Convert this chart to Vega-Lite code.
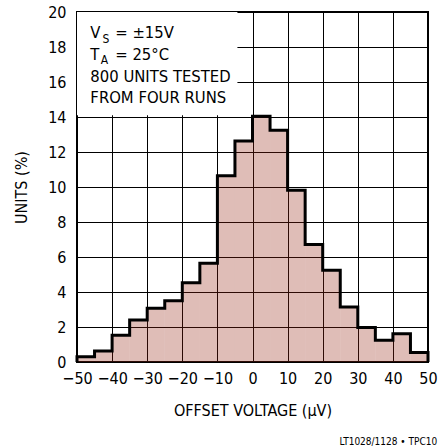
{
  "$schema": "https://vega.github.io/schema/vega-lite/v6.json",
  "width": 351,
  "height": 350,
  "autosize": "none",
  "padding": {"left": 77, "top": 12, "right": 10, "bottom": 86},
  "background": "white",
  "config": {
    "font": "DejaVu Sans Condensed",
    "view": {"stroke": "#000", "strokeWidth": 2},
    "axis": {
      "grid": true,
      "gridColor": "#000",
      "gridWidth": 1,
      "gridOpacity": 1,
      "ticks": false,
      "domain": false,
      "labelOverlap": false,
      "labelBound": false,
      "labelFlush": false,
      "labelFont": "DejaVu Sans Condensed",
      "labelFontSize": 16,
      "labelColor": "#000",
      "titleFont": "DejaVu Sans Condensed",
      "titleFontSize": 16,
      "titleFontWeight": "normal",
      "titleColor": "#000"
    }
  },
  "title": {
    "text": "LT1028/1128 • TPC10",
    "orient": "bottom",
    "anchor": "end",
    "fontSize": 10,
    "fontWeight": "normal",
    "font": "DejaVu Sans Condensed",
    "color": "#000",
    "offset": 19
  },
  "datasets": {
    "bins": [
      {"lo": -50, "hi": -45, "pct": 0.3},
      {"lo": -45, "hi": -40, "pct": 0.63},
      {"lo": -40, "hi": -35, "pct": 1.53},
      {"lo": -35, "hi": -30, "pct": 2.4},
      {"lo": -30, "hi": -25, "pct": 3.07},
      {"lo": -25, "hi": -20, "pct": 3.5},
      {"lo": -20, "hi": -15, "pct": 4.53},
      {"lo": -15, "hi": -10, "pct": 5.64},
      {"lo": -10, "hi": -5, "pct": 10.65},
      {"lo": -5, "hi": 0, "pct": 12.63},
      {"lo": 0, "hi": 5, "pct": 14.05},
      {"lo": 5, "hi": 10, "pct": 13.24},
      {"lo": 10, "hi": 15, "pct": 9.81},
      {"lo": 15, "hi": 20, "pct": 6.71},
      {"lo": 20, "hi": 25, "pct": 5.24},
      {"lo": 25, "hi": 30, "pct": 3.14},
      {"lo": 30, "hi": 35, "pct": 1.97},
      {"lo": 35, "hi": 40, "pct": 1.24},
      {"lo": 40, "hi": 45, "pct": 1.62},
      {"lo": 45, "hi": 50, "pct": 0.54}
    ],
    "outline": [
      {"i": 0, "v": -50, "pct": 0},
      {"i": 1, "v": -50, "pct": 0.3},
      {"i": 2, "v": -45, "pct": 0.63},
      {"i": 3, "v": -40, "pct": 1.53},
      {"i": 4, "v": -35, "pct": 2.4},
      {"i": 5, "v": -30, "pct": 3.07},
      {"i": 6, "v": -25, "pct": 3.5},
      {"i": 7, "v": -20, "pct": 4.53},
      {"i": 8, "v": -15, "pct": 5.64},
      {"i": 9, "v": -10, "pct": 10.65},
      {"i": 10, "v": -5, "pct": 12.63},
      {"i": 11, "v": 0, "pct": 14.05},
      {"i": 12, "v": 5, "pct": 13.24},
      {"i": 13, "v": 10, "pct": 9.81},
      {"i": 14, "v": 15, "pct": 6.71},
      {"i": 15, "v": 20, "pct": 5.24},
      {"i": 16, "v": 25, "pct": 3.14},
      {"i": 17, "v": 30, "pct": 1.97},
      {"i": 18, "v": 35, "pct": 1.24},
      {"i": 19, "v": 40, "pct": 1.62},
      {"i": 20, "v": 45, "pct": 0.54},
      {"i": 21, "v": 50, "pct": 0.54},
      {"i": 22, "v": 50, "pct": 0}
    ],
    "box": [
      {"x1": -50, "x2": -4.3, "y1": 14.1, "y2": 20}
    ],
    "notes": [
      {"kind": "main", "label": "V", "x": -46.2, "y": 18.5},
      {"kind": "sub", "label": "S", "x": -42.7, "y": 18.24},
      {"kind": "main", "label": "= ±15V", "x": -39.1, "y": 18.5},
      {"kind": "main", "label": "T", "x": -46.2, "y": 17.24},
      {"kind": "sub", "label": "A", "x": -43.2, "y": 17.04},
      {"kind": "main", "label": "= 25°C", "x": -39.1, "y": 17.24},
      {"kind": "main", "label": "800 UNITS TESTED", "x": -46.2, "y": 15.98},
      {"kind": "main", "label": "FROM FOUR RUNS", "x": -46.2, "y": 14.78}
    ]
  },
  "layer": [
    {
      "data": {"name": "bins"},
      "mark": {"type": "rect", "fill": "#942312", "fillOpacity": 0.3},
      "encoding": {
        "x": {
          "field": "lo", "type": "quantitative",
          "scale": {"domain": [-50, 50], "nice": false, "zero": false},
          "axis": {"values": [-50, -40, -30, -20, -10, 0, 10, 20, 30, 40, 50], "labelPadding": 8, "title": "OFFSET VOLTAGE (μV)", "titlePadding": 16}
        },
        "x2": {"field": "hi"},
        "y": {
          "field": "pct", "type": "quantitative",
          "scale": {"domain": [0, 20], "nice": false},
          "axis": {"values": [0, 2, 4, 6, 8, 10, 12, 14, 16, 18, 20], "labelPadding": 11, "title": "UNITS (%)", "titlePadding": 18}
        },
        "y2": {"datum": 0}
      }
    },
    {
      "data": {"name": "box"},
      "mark": {"type": "rect", "fill": "white"},
      "encoding": {
        "x": {"field": "x1", "type": "quantitative", "axis": {"values": [-50, -40, -30, -20, -10, 0, 10, 20, 30, 40, 50], "labelPadding": 8, "title": "OFFSET VOLTAGE (μV)", "titlePadding": 16}},
        "x2": {"field": "x2"},
        "y": {"field": "y1", "type": "quantitative", "axis": {"values": [0, 2, 4, 6, 8, 10, 12, 14, 16, 18, 20], "labelPadding": 11, "title": "UNITS (%)", "titlePadding": 18}},
        "y2": {"field": "y2"}
      }
    },
    {
      "data": {"name": "outline"},
      "mark": {"type": "line", "color": "#000", "strokeWidth": 3, "interpolate": "step-after", "strokeJoin": "miter"},
      "encoding": {
        "x": {"field": "v", "type": "quantitative", "axis": {"values": [-50, -40, -30, -20, -10, 0, 10, 20, 30, 40, 50], "labelPadding": 8, "title": "OFFSET VOLTAGE (μV)", "titlePadding": 16}},
        "y": {"field": "pct", "type": "quantitative", "axis": {"values": [0, 2, 4, 6, 8, 10, 12, 14, 16, 18, 20], "labelPadding": 11, "title": "UNITS (%)", "titlePadding": 18}},
        "order": {"field": "i", "type": "quantitative"}
      }
    },
    {
      "data": {"name": "notes"},
      "transform": [{"filter": "datum.kind === 'main'"}],
      "mark": {"type": "text", "align": "left", "baseline": "alphabetic", "fontSize": 16.5, "font": "DejaVu Sans Condensed", "color": "#000"},
      "encoding": {
        "x": {"field": "x", "type": "quantitative", "axis": {"values": [-50, -40, -30, -20, -10, 0, 10, 20, 30, 40, 50], "labelPadding": 8, "title": "OFFSET VOLTAGE (μV)", "titlePadding": 16}},
        "y": {"field": "y", "type": "quantitative", "axis": {"values": [0, 2, 4, 6, 8, 10, 12, 14, 16, 18, 20], "labelPadding": 11, "title": "UNITS (%)", "titlePadding": 18}},
        "text": {"field": "label"}
      }
    },
    {
      "data": {"name": "notes"},
      "transform": [{"filter": "datum.kind === 'sub'"}],
      "mark": {"type": "text", "align": "left", "baseline": "alphabetic", "fontSize": 12, "font": "DejaVu Sans Condensed", "color": "#000"},
      "encoding": {
        "x": {"field": "x", "type": "quantitative", "axis": {"values": [-50, -40, -30, -20, -10, 0, 10, 20, 30, 40, 50], "labelPadding": 8, "title": "OFFSET VOLTAGE (μV)", "titlePadding": 16}},
        "y": {"field": "y", "type": "quantitative", "axis": {"values": [0, 2, 4, 6, 8, 10, 12, 14, 16, 18, 20], "labelPadding": 11, "title": "UNITS (%)", "titlePadding": 18}},
        "text": {"field": "label"}
      }
    }
  ]
}
